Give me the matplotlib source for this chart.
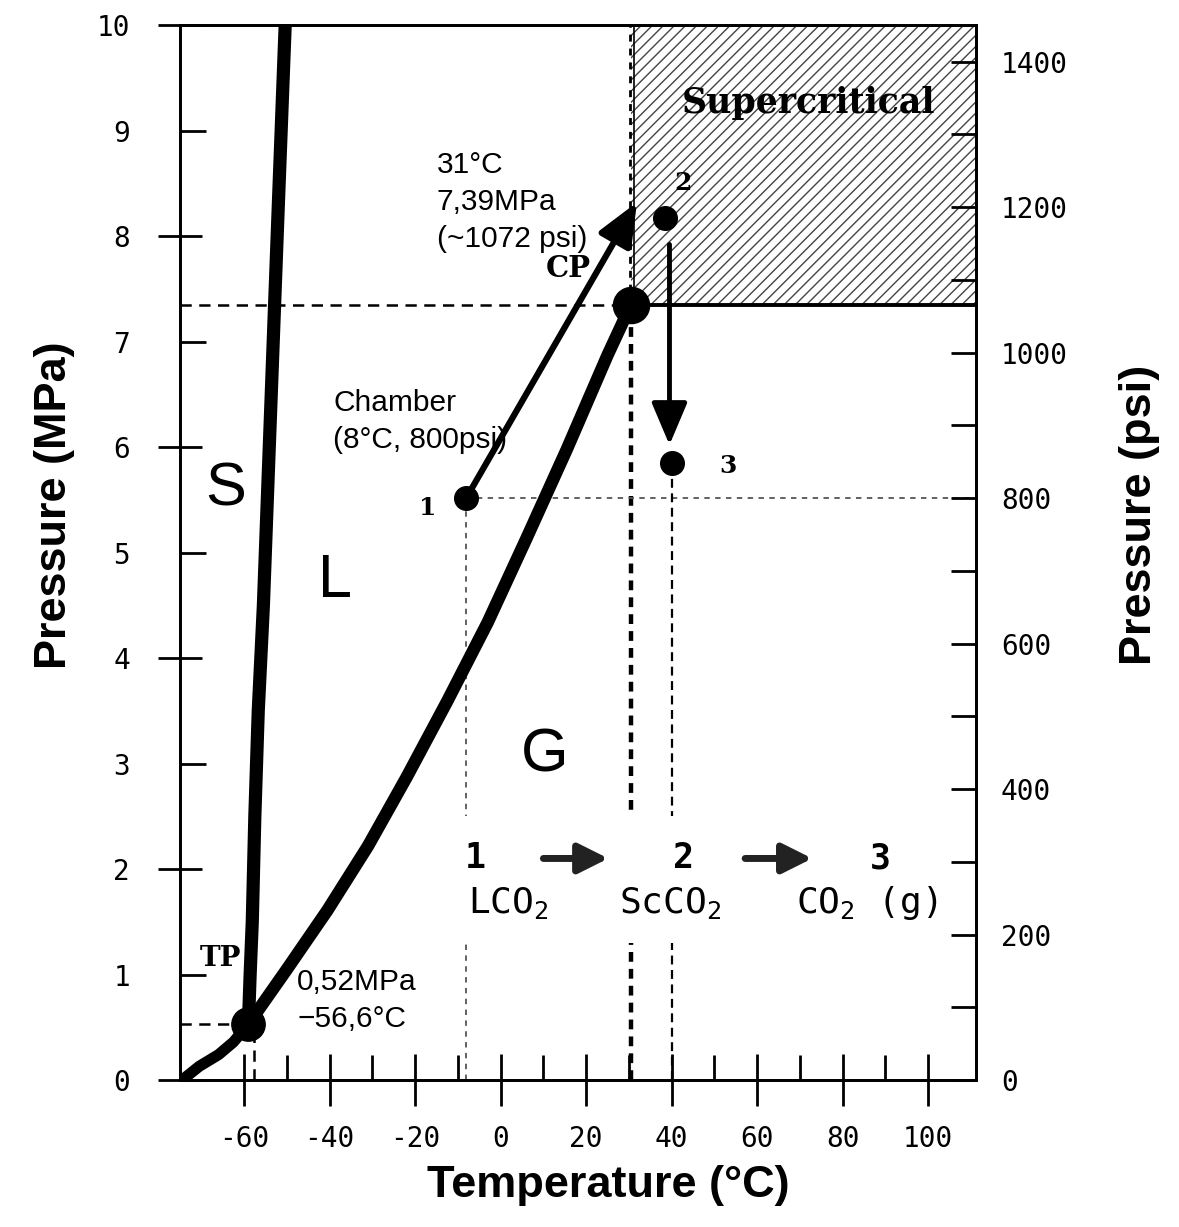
import matplotlib
matplotlib.use("Agg")
import matplotlib.pyplot as plt
from matplotlib.patches import Rectangle

# ---------------- data ----------------
sublimation_T = [-74.5, -70.5, -66.0, -62.5, -59.0]
sublimation_P = [0.0, 0.13, 0.24, 0.36, 0.53]

melting_T = [-59.0, -58.6, -58.1, -57.5, -56.7, -55.5, -54.4, -53.2, -52.0, -50.4]
melting_P = [0.53, 1.0, 1.5, 2.5, 3.5, 4.5, 5.7, 7.0, 8.3, 10.0]

vapor_T = [-59.0, -50.0, -40.5, -31.0, -22.0, -12.5, -3.0, 6.0, 15.5, 25.0, 30.5]
vapor_P = [0.53, 1.05, 1.61, 2.22, 2.87, 3.59, 4.34, 5.13, 5.98, 6.87, 7.35]

tp_T = [-59.0]
tp_P = [0.53]
cp_T = [30.5]
cp_P = [7.35]

state_labels = ["1", "2", "3"]
state_T = [-8.0, 38.5, 40.0]
state_P = [5.52, 8.17, 5.85]

x_ticks = [-60, -40, -20, 0, 20, 40, 60, 80, 100]
x_minor = [-50, -30, -10, 10, 30, 50, 70, 90]
y_ticks = [0, 1, 2, 3, 4, 5, 6, 7, 8, 9, 10]
psi_ticks = [0, 200, 400, 600, 800, 1000, 1200, 1400]
psi_minor = [100, 300, 500, 700, 900, 1100, 1300]
PSI_PER_MPA = 145.04

# ---------------- figure ----------------
plt.rcParams["axes.unicode_minus"] = False
plt.rcParams["hatch.linewidth"] = 1.0
plt.rcParams["mathtext.fontset"] = "custom"
plt.rcParams["mathtext.rm"] = "DejaVu Sans Mono"
plt.rcParams["mathtext.it"] = "DejaVu Sans Mono"

fig = plt.figure(figsize=(11.79, 12.27), dpi=100)
ax = fig.add_axes([0.1527, 0.1198, 0.6751, 0.8598])
XMIN, XMAX = -75.0, 111.2
ax.set_xlim(XMIN, XMAX)
ax.set_ylim(0, 10)

for s in ax.spines.values():
    s.set_linewidth(2)

tickfont = dict(family="DejaVu Sans Mono", size=20)

# x ticks
ax.set_xticks(x_ticks)
ax.set_xticklabels([str(t) for t in x_ticks], **tickfont)
ax.set_xticks(x_minor, minor=True)
ax.tick_params(axis="x", which="major", direction="inout", length=37, width=2, pad=14)
ax.tick_params(axis="x", which="minor", direction="in", length=18, width=2)

# y ticks (even: in/out, odd: in)
ax.set_yticks(y_ticks[::2])
ax.set_yticklabels([str(t) for t in y_ticks[::2]], **tickfont)
ax.set_yticks(y_ticks[1::2], minor=True)
ax.set_yticklabels([str(t) for t in y_ticks[1::2]], minor=True, **tickfont)
ax.tick_params(axis="y", which="major", direction="inout", length=32, width=2, pad=20)
ax.tick_params(axis="y", which="minor", direction="in", length=19, width=2, pad=36)

# right axis in psi
ax2 = ax.twinx()
ax2.set_ylim(0, 10 * PSI_PER_MPA)
ax2.set_yticks(psi_ticks)
ax2.set_yticklabels([str(t) for t in psi_ticks], **tickfont)
ax2.set_yticks(psi_minor, minor=True)
ax2.tick_params(axis="y", which="both", direction="in", length=18, width=2, pad=18)
for s in ax2.spines.values():
    s.set_linewidth(2)

# ---------------- supercritical region ----------------
ax.add_patch(Rectangle((cp_T[0], cp_P[0]), XMAX - cp_T[0], 10 - cp_P[0],
                       facecolor="white", edgecolor="#444444", hatch="///",
                       lw=0, zorder=1))
ax.plot([cp_T[0], XMAX], [cp_P[0], cp_P[0]], color="k", lw=2.8, zorder=3)
ax.plot([cp_T[0] + 0.8, cp_T[0] + 0.8], [cp_P[0], 10], color="k", lw=1.2, zorder=2)
ax.text(72.0, 9.26, "Supercritical", family="DejaVu Serif", weight="bold",
        size=25, ha="center", va="center", zorder=6)

# ---------------- guide lines ----------------
ax.plot([XMIN, cp_T[0]], [cp_P[0], cp_P[0]], color="k", lw=1.8, ls=(0, (4.5, 3)), zorder=2)
ax.plot([cp_T[0], cp_T[0]], [0, cp_P[0]], color="k", lw=3.2, ls=(0, (2.2, 1.6)), zorder=2)
ax.plot([cp_T[0] - 0.3, cp_T[0] - 0.3], [cp_P[0], 10], color="k", lw=2.0,
        ls=(0, (2.5, 2.5)), zorder=2)
ax.plot([XMIN, tp_T[0]], [tp_P[0], tp_P[0]], color="k", lw=1.8, ls=(0, (4.5, 3)), zorder=2)
ax.plot([tp_T[0] + 1.2, tp_T[0] + 1.2], [0, tp_P[0]], color="k", lw=1.8, ls=(0, (4.5, 3)), zorder=2)
ax.plot([state_T[0], XMAX], [state_P[0], state_P[0]], color="#555555", lw=1.3,
        ls=(0, (3, 3)), zorder=2)
ax.plot([state_T[0], state_T[0]], [0, state_P[0]], color="#555555", lw=1.3,
        ls=(0, (3, 3)), zorder=2)
ax.plot([state_T[2], state_T[2]], [0, state_P[2]], color="k", lw=1.6,
        ls=(0, (4, 2.5)), zorder=2)
# white band behind the bottom labels
ax.add_patch(Rectangle((-12, 1.3), 110, 1.2, facecolor="white", edgecolor="none", zorder=2.5))

# ---------------- phase boundaries ----------------
ax.plot(sublimation_T, sublimation_P, color="k", lw=8, solid_capstyle="round",
        solid_joinstyle="round", zorder=3)
ax.plot(melting_T, melting_P, color="k", lw=9.5, solid_capstyle="butt",
        solid_joinstyle="round", zorder=3)
ax.plot(vapor_T, vapor_P, color="k", lw=9, solid_capstyle="round",
        solid_joinstyle="round", zorder=3)

ax.plot(tp_T, tp_P, "o", color="k", ms=24, zorder=4)
ax.plot(cp_T, cp_P, "o", color="k", ms=26, zorder=4)
ax.plot(state_T, state_P, "o", color="k", ms=17, zorder=4)

# ---------------- process arrows ----------------
ax.annotate("", xy=(31.9, 8.32), xytext=(state_T[0], state_P[0]),
            arrowprops=dict(arrowstyle="-|>,head_length=1.3,head_width=0.55",
                            lw=4.5, color="k", shrinkA=0, shrinkB=0,
                            mutation_scale=20), zorder=5)
ax.annotate("", xy=(39.5, 6.02), xytext=(39.5, 7.92),
            arrowprops=dict(arrowstyle="-|>,head_length=1.3,head_width=0.55",
                            lw=3.5, color="k", shrinkA=0, shrinkB=0,
                            mutation_scale=20), zorder=5)
for x0, x1 in [(10.0, 25.2), (57.2, 72.9)]:
    ax.annotate("", xy=(x1, 2.1), xytext=(x0, 2.1),
                arrowprops=dict(arrowstyle="-|>,head_length=0.9,head_width=0.45",
                                lw=5, color="#222222", shrinkA=0, shrinkB=0,
                                mutation_scale=20), zorder=5)

# ---------------- texts ----------------
big = dict(family="Liberation Sans", size=44, ha="center", va="center", zorder=6)
ax.text(-64.4, 5.59, "S", **big)
ax.text(-38.7, 4.73, "L", **big)
ax.text(10.4, 3.07, "G", **big)

lab = dict(family="DejaVu Serif", weight="bold", ha="center", va="center", zorder=6)
ax.text(15.8, 7.69, "CP", size=21, **lab)
ax.text(-65.6, 1.15, "TP", size=20, **lab)
ax.text(-17.0, 5.42, state_labels[0], size=18, **lab)
ax.text(42.7, 8.50, state_labels[1], size=18, **lab)
ax.text(53.2, 5.82, state_labels[2], size=18, **lab)

note = dict(family="Liberation Sans", size=21.5, ha="left", va="center", zorder=6,
            linespacing=1.4)
ax.text(-14.9, 8.32, "31°C\n7,39MPa\n(~1072 psi)", **note)
ax.text(-39.2, 6.24, "Chamber\n(8°C, 800psi)", **note)
ax.text(-47.6, 0.75, "0,52MPa\n−56,6°C", **note)

row = dict(family="DejaVu Sans Mono", ha="center", va="center", zorder=6)
ax.text(-6.0, 2.1, "1", size=25, weight="bold", **row)
ax.text(42.7, 2.1, "2", size=25, weight="bold", **row)
ax.text(88.8, 2.1, "3", size=25, weight="bold", **row)
ax.text(1.8, 1.68, r"LCO$_{\mathrm{2}}$", size=26, **row)
ax.text(39.6, 1.68, r"ScCO$_{\mathrm{2}}$", size=26, **row)
ax.text(85.7, 1.68, r"CO$_{\mathrm{2}}$ (g)", size=26, **row)

# ---------------- axis titles ----------------
title = dict(family="Liberation Sans", weight="bold", size=32.5)
fig.text(55 / 1179, 1 - 505 / 1227, "Pressure (MPa)", rotation=90,
         ha="center", va="center", **title)
fig.text(1140 / 1179, 1 - 515 / 1227, "Pressure (psi)", rotation=90,
         ha="center", va="center", **title)
fig.text(608 / 1179, 1 - 1185 / 1227, "Temperature (°C)",
         ha="center", va="center", **title)

fig.savefig("out.png", dpi=100)
